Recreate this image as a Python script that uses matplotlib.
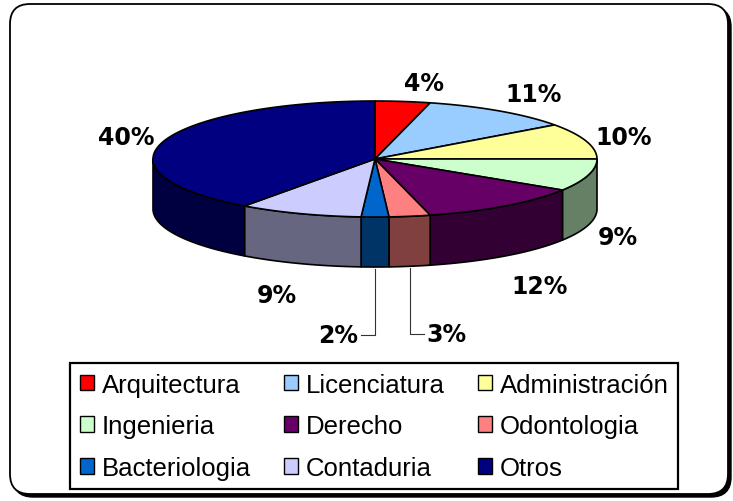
import numpy as np
import matplotlib
matplotlib.use("Agg")
import matplotlib.pyplot as plt
from matplotlib.patches import Polygon, Patch, FancyBboxPatch
from matplotlib.colors import to_rgb

# datos del grafico
carreras = ["Arquitectura", "Licenciatura", "Administración", "Ingenieria",
            "Derecho", "Odontologia", "Bacteriologia", "Contaduria", "Otros"]
porcentajes = [4, 11, 10, 9, 12, 3, 2, 9, 40]
colores = ["#FF0000", "#99CCFF", "#FFFF99", "#CCFFCC", "#660066",
           "#FF8080", "#0066CC", "#CCCCFF", "#000080"]

W, H = 733, 502
fig = plt.figure(figsize=(W / 100, H / 100), dpi=100)
ax = fig.add_axes([0, 0, 1, 1])
ax.set_xlim(0, W)
ax.set_ylim(H, 0)
ax.axis("off")

# marco exterior con sombra
sombra = FancyBboxPatch((13, 8), 718, 490, boxstyle="round,pad=0,rounding_size=20",
                        fc="black", ec="black", lw=1)
marco = FancyBboxPatch((10, 5), 718, 490, boxstyle="round,pad=0,rounding_size=20",
                       fc="white", ec="black", lw=1.3)
ax.add_patch(sombra)
ax.add_patch(marco)

# geometria del pastel 3D (pixeles)
cx, cy, rx, ry, prof = 375, 160, 222, 58, 50


def punto(f, dy=0.0):
    t = 2 * np.pi * f
    return cx + rx * np.sin(t), cy - ry * np.cos(t) + dy


def oscuro(c, k=0.5):
    r, g, b = to_rgb(c)
    return (r * k, g * k, b * k)


total = float(sum(porcentajes))
fin = np.cumsum(porcentajes) / total
ini = np.concatenate([[0], fin[:-1]])

# paredes laterales (solo la mitad frontal)
for f0, f1, col in zip(ini, fin, colores):
    a, b = max(f0, 0.25), min(f1, 0.75)
    if b <= a:
        continue
    ts = np.linspace(a, b, 80)
    arriba = [punto(t) for t in ts]
    abajo = [punto(t, prof) for t in ts[::-1]]
    ax.add_patch(Polygon(arriba + abajo, closed=True, fc=oscuro(col),
                         ec="black", lw=1.2, joinstyle="round"))

# caras superiores
for f0, f1, col in zip(ini, fin, colores):
    ts = np.linspace(f0, f1, 120)
    pts = [(cx, cy)] + [punto(t) for t in ts]
    ax.add_patch(Polygon(pts, closed=True, fc=col, ec="black", lw=1.2,
                         joinstyle="round"))

# etiquetas de porcentaje
fuente_pct = dict(family="DejaVu Sans", weight="bold", size=17, color="black")
gx, gy = 10, 12
for v, f0, f1 in zip(porcentajes, ini, fin):
    fm = (f0 + f1) / 2
    t = 2 * np.pi * fm
    s, c = np.sin(t), np.cos(t)
    txt = f"{v}%"
    if v <= 3 and c < -0.9:
        # etiqueta con linea guia bajo el pastel
        lado = 1 if fm < 0.5 else -1
        x0, y0 = punto(fm, prof)
        y0 += 2
        ly = y0 + 66
        ax.plot([x0, x0, x0 + lado * 14], [y0, ly, ly], color="#333333", lw=0.8)
        ax.text(x0 + lado * 17, ly, txt, ha="left" if lado > 0 else "right",
                va="center", **fuente_pct)
        continue
    x = cx + (rx + gx) * s
    y = cy - (ry + gy) * c + (prof + 8 if c < 0 else 0)
    ha = "left" if s > 0.1 else ("right" if s < -0.1 else "center")
    va = "center" if abs(c) < 0.45 else ("baseline" if c > 0 else "top")
    ax.text(x, y, txt, ha=ha, va=va, **fuente_pct)

# leyenda en filas de tres
orden = [0, 3, 6, 1, 4, 7, 2, 5, 8]
manijas = [Patch(fc=colores[i], ec="black", lw=1) for i in orden]
nombres = [carreras[i] for i in orden]
leg = ax.legend(manijas, nombres, ncol=3, loc="upper left",
                bbox_to_anchor=(70 / W, 1 - 364 / H), borderaxespad=0,
                frameon=True, fancybox=False, edgecolor="black", framealpha=1,
                prop=dict(family="Liberation Sans", size=18.5),
                handlelength=0.545, handleheight=0.545, handletextpad=0.31,
                columnspacing=1.29, labelspacing=0.69, borderpad=0.37)
leg.get_frame().set_linewidth(1.6)

fig.savefig("out.png", dpi=100)
